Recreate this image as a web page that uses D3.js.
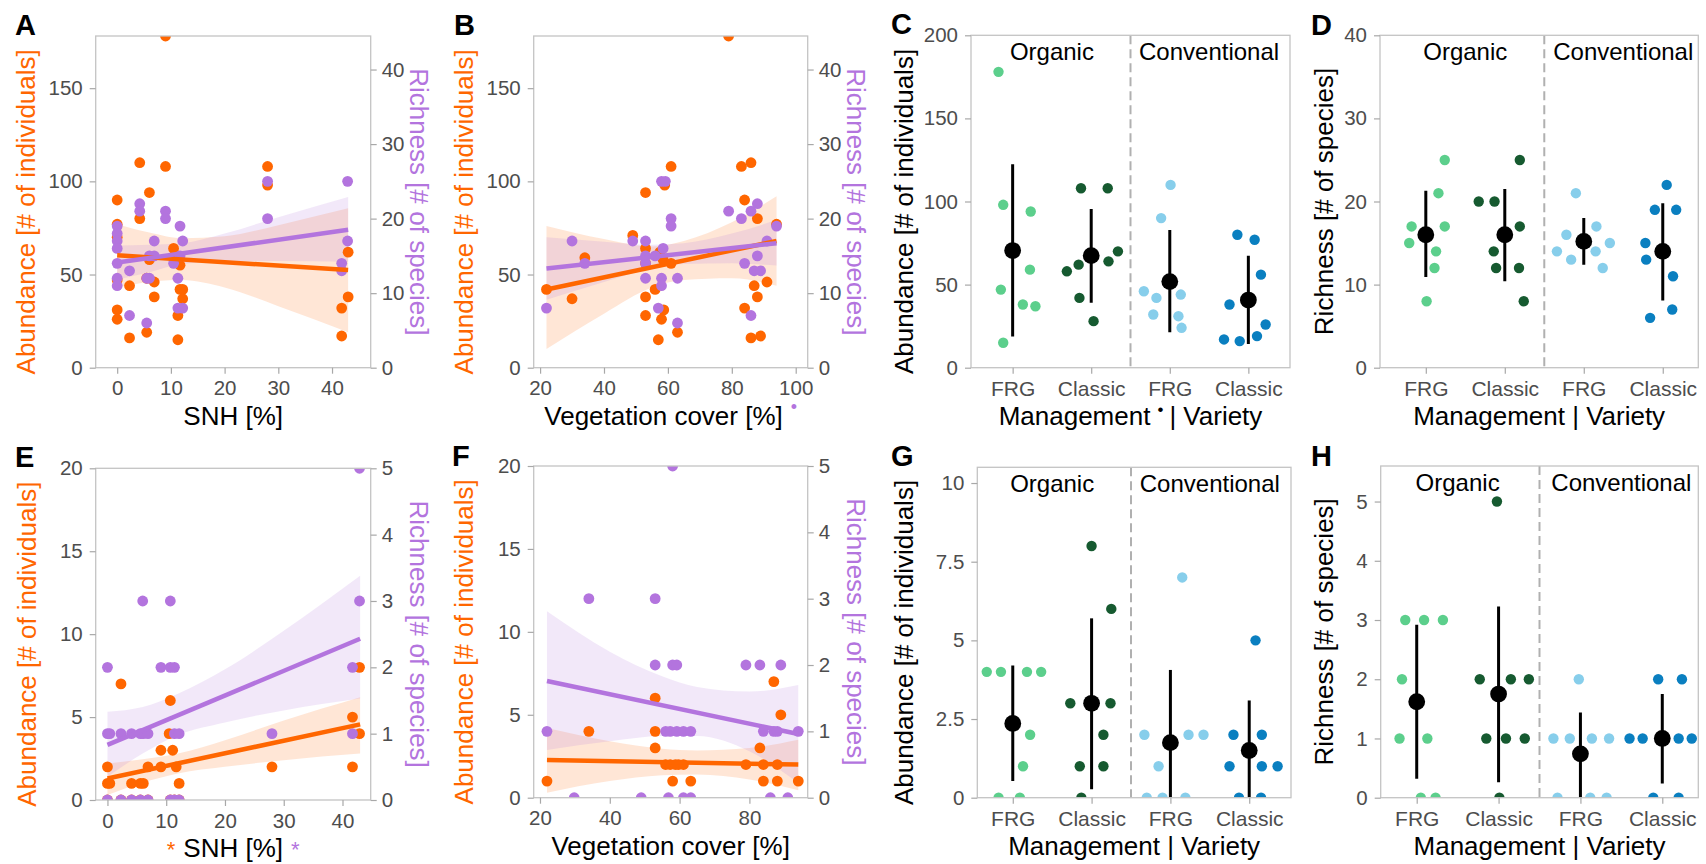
<!DOCTYPE html>
<html>
<head>
<meta charset="utf-8">
<script src="https://cdn.jsdelivr.net/npm/d3@7"></script>
<style>
  body { margin: 0; background: #fff; }
  svg { font-family: "Liberation Sans", Arial, sans-serif; }
</style>
</head>
<body>
<svg id="fig" width="1706" height="864"></svg>
<script>
// ---- data ----
// scatter panels: [x, value]
const snhAbundA = [[9,178],[4.2,110],[9,108],[28,108],[28,98],[6,94],[0,90],[4.2,80],[0,77],[0,70],[10.5,64],[43,62],[6,58],[11.7,55],[2.3,44],[6.9,46],[6.9,38],[11.7,42],[12.2,42],[12.2,37],[11.3,28],[0,31],[0,26],[2.3,16],[5.5,19],[11.3,15],[43,38],[41.8,32],[41.8,17],[0,47],[10.5,59],[5.5,48]];
const snhRichA = [[42.9,25],[28,25],[28,20],[4.2,22],[4.2,21],[9,21],[9,20],[0,19],[0,18],[0,17],[0,16],[0,14],[0,12],[0,11],[11.7,19],[12.2,17],[6.9,17],[6,15],[6.9,15],[11.7,15],[10.5,14],[2.3,13],[6,12],[5.5,12],[11.3,12],[11.3,8],[12.2,8],[2.3,7],[5.5,6],[42.9,17],[41.8,14],[41.8,13]];
const vegAbundB = [[79,178],[61,108],[83,108],[86,110],[53,94],[59,98],[84,90],[88,80],[94,77],[49,71],[53,64],[57.5,62],[58.5,58],[61,56],[34,59],[22,42],[30,37],[53,38],[56,42],[87,44],[91,46],[88,38],[84,32],[58.7,31],[53,28],[58,26],[63,19],[57,15],[86,16],[89,17],[53,56]];
const vegRichB = [[58,25],[59.2,25],[79,21],[86,21],[88,22],[83,20],[61,20],[61,19],[94,19],[30,17],[49,17],[53,17],[91,17],[58.5,16],[53,15],[56,15],[88,15],[34,14],[53,14],[84,14],[87,13],[89,13],[53,12],[58,12],[63,12],[58,11],[22,8],[57,8],[86,7],[63,6]];
const snhAbundE = [[0,2],[0,1],[0.4,1],[2.3,7],[4.1,1],[5.6,1],[6.1,1],[6.9,2],[9.1,3],[9.1,2],[10.7,6],[10.5,4],[11.1,3],[11.7,2],[12.2,1],[28,2],[41.7,5],[41.7,2],[42.9,8],[42.9,4],[0,0],[2.3,0],[4.1,0],[5.6,0],[6.9,0],[10.7,0],[11.4,0],[12.2,0]];
const snhRichE = [[42.9,5],[6,3],[10.7,3],[42.9,3],[0,2],[9.1,2],[10.7,2],[11.4,2],[41.7,2],[0,1],[0.4,1],[2.3,1],[4.1,1],[5.6,1],[6.1,1],[6.9,1],[11.4,1],[12.2,1],[28,1],[41.7,1],[0,0],[2.3,0],[4.1,0],[5.6,0],[6.9,0],[10.7,0],[11.4,0],[12.2,0]];
const vegAbundF = [[22,1],[34,4],[53,6],[53,4],[53,3],[56,2],[57.3,2],[58.8,2],[59.7,2],[61.1,2],[58,1],[63.2,1],[87,7],[89,5],[83,3],[79,2],[84,2],[88,2],[84,1],[88,1],[94,1]];
const vegRichF = [[58,5],[34,3],[53,3],[53,2],[58,2],[59.2,2],[79,2],[83,2],[89,2],[22,1],[56,1],[57.3,1],[59.2,1],[61.1,1],[63.2,1],[84,1],[87,1],[88,1],[94,1],[29.8,0],[49,0],[56.8,0],[61.1,0],[63.2,0],[86,0],[91,0]];

// fitted lines [x, y] and confidence bands [x, lower, upper]
const fitAbundA = [[0,60.3],[43,52.4]];
const fitRichA = [[0,14.1],[43,18.5]];
const bandAbundA = [[0,43,77],[6,46,72.5],[12,47,69.5],[20,43,70.5],[30,33,76.5],[43,19,85.5]];
const bandRichA = [[0,11.8,16.4],[6,12.8,16.5],[12,13.9,16.7],[20,14.2,18],[30,14.3,20.2],[43,14.2,22.9]];
const fitAbundB = [[22,42],[94,68]];
const fitRichB = [[22,13.3],[94,16.7]];
const bandAbundB = [[22,10,76],[40,29,69],[55,43,65],[65,47,68],[80,48,78],[94,44,92]];
const bandRichB = [[22,9.1,17.5],[40,11.5,16.9],[55,13.3,16.5],[65,13.9,16.7],[80,14,18],[94,13.7,19.8]];
const fitAbundE = [[0,1.3],[43,4.56]];
const fitRichE = [[0,0.83],[43,2.43]];
const bandAbundE = [[0,0.3,2.2],[6,1.05,2.45],[12,1.6,2.8],[20,2.0,3.6],[30,2.4,4.8],[43,2.8,6.2]];
const bandRichE = [[0,0.35,1.33],[6,0.7,1.4],[12,0.98,1.6],[20,1.17,1.97],[30,1.35,2.55],[43,1.53,3.38]];
const fitAbundF = [[22,2.27],[94,2.0]];
const fitRichF = [[22,1.76],[94,0.96]];
const bandAbundF = [[22,0.3,4.2],[40,1.0,3.4],[55,1.35,2.95],[65,1.4,2.85],[80,1.1,3.0],[94,0.45,3.5]];
const bandRichF = [[22,0.72,2.81],[40,0.85,2.2],[55,0.93,1.83],[65,0.93,1.67],[80,0.7,1.6],[94,0.22,1.7]];

// group panels
const catLabels = ["FRG", "Classic", "FRG", "Classic"];
// per group: [jitter offset, value]
const abundC = [
  [[-0.18,178],[-0.12,98],[0.23,94],[0.22,59],[-0.15,47],[0.13,38],[0.29,37],[-0.12,15]],
  [[-0.13,108],[0.21,108],[0.34,70],[0.22,64],[-0.16,62],[-0.31,58],[-0.15,42],[0.03,28]],
  [[0.01,110],[-0.11,90],[-0.33,46],[-0.17,42],[0.14,44],[-0.21,32],[0.11,31],[0.15,24]],
  [[-0.14,80],[0.08,77],[0.16,56],[-0.24,38],[0.22,26],[0.11,19],[-0.31,17],[-0.11,16]]
];
const meanC = [70.5, 67.4, 51.8, 40.7];
const loC = [18.7, 39.1, 21.3, 14.2];
const hiC = [122.4, 95.5, 82.8, 67.4];
const richD = [
  [[0.24,25],[0.16,21],[-0.18,17],[0.24,17],[-0.21,15],[0.13,14],[0.11,12],[0.01,8]],
  [[0.19,25],[-0.33,20],[-0.13,20],[0.19,17],[-0.14,14],[-0.11,12],[0.18,12],[0.24,8]],
  [[-0.1,21],[-0.22,16],[0.16,17],[-0.34,14],[0.15,14],[0.33,15],[-0.16,13],[0.24,12]],
  [[0.05,22],[-0.1,19],[0.17,19],[-0.22,15],[-0.21,13],[0.13,11],[0.12,7],[-0.16,6]]
];
const meanD = [16, 16, 15.2, 14];
const loD = [10.9, 10.4, 12.4, 8.1];
const hiD = [21.3, 21.5, 18, 19.8];
const abundG = [
  [[-0.33,4],[-0.15,4],[0.18,4],[0.36,4],[0.22,2],[0.13,1],[-0.18,0],[0.09,0]],
  [[0,8],[0.25,6],[-0.27,3],[0.24,3],[0.15,2],[-0.15,1],[0.15,1],[-0.13,0]],
  [[0.15,7],[-0.33,2],[0.23,2],[0.42,2],[-0.15,1],[-0.3,0],[-0.1,0],[0.19,0]],
  [[0.08,5],[-0.2,2],[0.16,2],[-0.25,1],[0.16,1],[0.36,1],[-0.13,0],[0.15,0]]
];
const meanG = [2.36, 3, 1.75, 1.5];
const loG = [0.53, 0.27, 0, 0];
const hiG = [4.2, 5.7, 4.06, 3.09];
const richH = [
  [[-0.14,3],[0.09,3],[0.32,3],[-0.18,2],[-0.21,1],[0.13,1],[0.05,0],[0.23,0]],
  [[-0.02,5],[-0.23,2],[0.15,2],[0.37,2],[-0.15,1],[0.09,1],[0.32,1],[0.01,0]],
  [[-0.02,2],[-0.33,1],[-0.13,1],[0.14,1],[0.35,1],[-0.28,0],[0.12,0],[0.32,0]],
  [[-0.05,2],[0.24,2],[-0.4,1],[-0.24,1],[0.2,1],[0.36,1],[-0.11,0],[0.2,0]]
];
const meanH = [1.62, 1.75, 0.74, 1];
const loH = [0.32, 0.26, 0, 0.24];
const hiH = [2.92, 3.23, 1.44, 1.75];

// ---- styles ----
const ORANGE = "#ff6600";
const PURPLE = "#b374de";
const groupColors = ["#5ccf8c", "#165a30", "#87ceeb", "#0a7fc0"];
const BORDER = "#c4c4c4";
const TICK = "#a8a8a8";
const LABEL = "#4d4d4d";
const plain = d => String(d);

const svg = d3.select("#fig");
const defs = svg.append("defs");

function styleAxis(s, fs) {
  s.attr("font-family", null).attr("font-size", null);
  s.select(".domain").remove();
  s.selectAll(".tick line").attr("stroke", TICK).attr("stroke-width", 1.2);
  s.selectAll(".tick text").attr("fill", LABEL).style("font-size", (fs || 20.5) + "px");
}

function makeClip(name, b) {
  defs.append("clipPath").attr("id", name).append("rect")
    .attr("x", b.x0).attr("y", b.y0).attr("width", b.x1 - b.x0).attr("height", b.y1 - b.y0);
  return "url(#" + name + ")";
}

function panelLetter(g, letter, x, y) {
  g.append("text").attr("x", x).attr("y", y)
    .style("font-size", "29px").style("font-weight", "bold").text(letter);
}

function scatterPanel(p) {
  const b = p.box;
  const g = svg.append("g");
  const x = d3.scaleLinear().domain(p.xDomain).range([b.x0, b.x1]);
  const yA = d3.scaleLinear().domain([0, p.abundMax]).range([b.y1, b.y0]);
  const yR = d3.scaleLinear().domain([0, p.richMax]).range([b.y1, b.y0]);
  const plot = g.append("g").attr("clip-path", makeClip("clip" + p.letter, b));

  const area = ys => d3.area().x(d => x(d[0])).y0(d => ys(d[1])).y1(d => ys(d[2])).curve(d3.curveMonotoneX);
  plot.append("path").datum(p.abundBand).attr("d", area(yA)).attr("fill", ORANGE).attr("fill-opacity", 0.16);
  plot.append("path").datum(p.richBand).attr("d", area(yR)).attr("fill", PURPLE).attr("fill-opacity", 0.17);

  plot.append("g").selectAll("circle").data(p.abundPts).join("circle")
    .attr("cx", d => x(d[0])).attr("cy", d => yA(d[1])).attr("r", 5.4).attr("fill", ORANGE);
  plot.append("g").selectAll("circle").data(p.richPts).join("circle")
    .attr("cx", d => x(d[0])).attr("cy", d => yR(d[1])).attr("r", 5.4).attr("fill", PURPLE);

  const line = ys => d3.line().x(d => x(d[0])).y(d => ys(d[1]));
  plot.append("path").datum(p.abundFit).attr("d", line(yA)).attr("fill", "none")
    .attr("stroke", ORANGE).attr("stroke-width", 4.5);
  plot.append("path").datum(p.richFit).attr("d", line(yR)).attr("fill", "none")
    .attr("stroke", PURPLE).attr("stroke-width", 4.5);

  g.append("rect").attr("x", b.x0).attr("y", b.y0).attr("width", b.x1 - b.x0).attr("height", b.y1 - b.y0)
    .attr("fill", "none").attr("stroke", BORDER).attr("stroke-width", 1.3);

  g.append("g").attr("transform", `translate(${b.x0},0)`)
    .call(d3.axisLeft(yA).tickValues(p.abundTicks).tickFormat(plain).tickSize(6).tickPadding(7)).call(styleAxis);
  g.append("g").attr("transform", `translate(${b.x1},0)`)
    .call(d3.axisRight(yR).tickValues(p.richTicks).tickFormat(plain).tickSize(6).tickPadding(5)).call(styleAxis);
  g.append("g").attr("transform", `translate(0,${b.y1})`)
    .call(d3.axisBottom(x).tickValues(p.xTicks).tickFormat(plain).tickSize(6).tickPadding(7)).call(styleAxis);

  const cy = (b.y0 + b.y1) / 2;
  g.append("text").attr("transform", `translate(${p.yLeftX},${cy + 10}) rotate(-90)`)
    .attr("text-anchor", "middle").attr("fill", ORANGE).style("font-size", "26px")
    .text("Abundance [# of individuals]");
  g.append("text").attr("transform", `translate(${b.x1 + 39},${cy}) rotate(90)`)
    .attr("text-anchor", "middle").attr("fill", PURPLE).style("font-size", "26px")
    .text("Richness [# of species]");

  const t = g.append("text").attr("x", (b.x0 + b.x1) / 2).attr("y", b.y1 + 57)
    .attr("text-anchor", "middle").style("font-size", "26px");
  p.title(t);

  panelLetter(g, p.letter, p.letterPos[0], p.letterPos[1]);
}

function groupPanel(p) {
  const b = p.box;
  const g = svg.append("g");
  const x = d3.scaleLinear().domain(p.xDomain).range([b.x0, b.x1]);
  const y = d3.scaleLinear().domain([0, p.yMax]).range([b.y1, b.y0]);
  const plot = g.append("g").attr("clip-path", makeClip("clip" + p.letter, b));

  plot.append("line").attr("x1", x(2.5)).attr("x2", x(2.5)).attr("y1", b.y0).attr("y2", b.y1)
    .attr("stroke", "#b0b0b0").attr("stroke-width", 2).attr("stroke-dasharray", "9,5");

  p.points.forEach((pts, i) => {
    plot.append("g").selectAll("circle").data(pts).join("circle")
      .attr("cx", d => x(i + 1 + d[0])).attr("cy", d => y(d[1])).attr("r", 5.2)
      .attr("fill", groupColors[i]);
  });
  const idx = [0, 1, 2, 3];
  plot.append("g").selectAll("line").data(idx).join("line")
    .attr("x1", i => x(i + 1)).attr("x2", i => x(i + 1))
    .attr("y1", i => y(p.lo[i])).attr("y2", i => y(p.hi[i]))
    .attr("stroke", "#000").attr("stroke-width", 3);
  plot.append("g").selectAll("circle").data(idx).join("circle")
    .attr("cx", i => x(i + 1)).attr("cy", i => y(p.mean[i])).attr("r", 8.4).attr("fill", "#000");

  g.append("rect").attr("x", b.x0).attr("y", b.y0).attr("width", b.x1 - b.x0).attr("height", b.y1 - b.y0)
    .attr("fill", "none").attr("stroke", BORDER).attr("stroke-width", 1.3);

  g.append("g").attr("transform", `translate(${b.x0},0)`)
    .call(d3.axisLeft(y).tickValues(p.yTicks).tickFormat(plain).tickSize(6).tickPadding(7)).call(styleAxis);
  g.append("g").attr("transform", `translate(0,${b.y1})`)
    .call(d3.axisBottom(x).tickValues([1, 2, 3, 4]).tickFormat((d, i) => catLabels[i])
      .tickSize(6).tickPadding(7)).call(s => styleAxis(s, 21));

  g.append("text").attr("x", x(1.5)).attr("y", b.y0 + 25).attr("text-anchor", "middle")
    .style("font-size", "24px").text("Organic");
  g.append("text").attr("x", x(3.5)).attr("y", b.y0 + 25).attr("text-anchor", "middle")
    .style("font-size", "24px").text("Conventional");

  const cy = (b.y0 + b.y1) / 2 + p.labelShift;
  g.append("text").attr("transform", `translate(${p.yLeftX},${cy}) rotate(-90)`)
    .attr("text-anchor", "middle").style("font-size", "26px").text(p.yLabel);

  const t = g.append("text").attr("x", (b.x0 + b.x1) / 2).attr("y", b.y1 + 57)
    .attr("text-anchor", "middle").style("font-size", "26px");
  if (p.dot) {
    t.append("tspan").text("Management");
    t.append("tspan").attr("dx", 7).attr("dy", -10).style("font-size", "17px").text("\u2022");
    t.append("tspan").attr("dx", 6).attr("dy", 10).text("| Variety");
  } else {
    t.text("Management | Variety");
  }

  panelLetter(g, p.letter, p.letterPos[0], p.letterPos[1]);
}

// ---- panels ----
scatterPanel({
  letter: "A", letterPos: [15, 35],
  box: { x0: 95.7, x1: 370.7, y0: 36, y1: 367.7 },
  xDomain: [-4, 47.2], xTicks: [0, 10, 20, 30, 40],
  abundMax: 178, richMax: 44.5, abundTicks: [0, 50, 100, 150], richTicks: [0, 10, 20, 30, 40],
  abundPts: snhAbundA, richPts: snhRichA, abundFit: fitAbundA, richFit: fitRichA,
  abundBand: bandAbundA, richBand: bandRichA, yLeftX: 35,
  title: t => t.text("SNH [%]")
});
scatterPanel({
  letter: "B", letterPos: [454, 35],
  box: { x0: 533.7, x1: 807.7, y0: 36, y1: 367.7 },
  xDomain: [18, 103.75], xTicks: [20, 40, 60, 80, 100],
  abundMax: 178, richMax: 44.5, abundTicks: [0, 50, 100, 150], richTicks: [0, 10, 20, 30, 40],
  abundPts: vegAbundB, richPts: vegRichB, abundFit: fitAbundB, richFit: fitRichB,
  abundBand: bandAbundB, richBand: bandRichB, yLeftX: 473,
  title: t => {
    t.append("tspan").text("Vegetation cover [%]");
    t.append("tspan").attr("dx", 8).attr("dy", -12).attr("fill", PURPLE).style("font-size", "18px").text("\u2022");
  }
});
scatterPanel({
  letter: "E", letterPos: [15, 467],
  box: { x0: 95.7, x1: 370.7, y0: 468.3, y1: 800 },
  xDomain: [-2, 44.8], xTicks: [0, 10, 20, 30, 40],
  abundMax: 20, richMax: 5, abundTicks: [0, 5, 10, 15, 20], richTicks: [0, 1, 2, 3, 4, 5],
  abundPts: snhAbundE, richPts: snhRichE, abundFit: fitAbundE, richFit: fitRichE,
  abundBand: bandAbundE, richBand: bandRichE, yLeftX: 36,
  title: t => {
    t.append("tspan").attr("fill", ORANGE).style("font-size", "22px").text("*");
    t.append("tspan").attr("dx", 8).text("SNH [%]");
    t.append("tspan").attr("dx", 8).attr("fill", PURPLE).style("font-size", "22px").text("*");
  }
});
scatterPanel({
  letter: "F", letterPos: [452, 466],
  box: { x0: 533.7, x1: 807.7, y0: 466, y1: 797.7 },
  xDomain: [18.2, 96.7], xTicks: [20, 40, 60, 80],
  abundMax: 20, richMax: 5, abundTicks: [0, 5, 10, 15, 20], richTicks: [0, 1, 2, 3, 4, 5],
  abundPts: vegAbundF, richPts: vegRichF, abundFit: fitAbundF, richFit: fitRichF,
  abundBand: bandAbundF, richBand: bandRichF, yLeftX: 473,
  title: t => t.text("Vegetation cover [%]")
});

groupPanel({
  letter: "C", letterPos: [891, 34],
  box: { x0: 971, x1: 1290, y0: 35.3, y1: 367.7 },
  xDomain: [0.47, 4.53], yMax: 200, yTicks: [0, 50, 100, 150, 200],
  points: abundC, mean: meanC, lo: loC, hi: hiC,
  yLabel: "Abundance [# of individuals]", yLeftX: 912.7, labelShift: 10, dot: true
});
groupPanel({
  letter: "D", letterPos: [1311, 35],
  box: { x0: 1380, x1: 1698.3, y0: 35.3, y1: 367.7 },
  xDomain: [0.42, 4.45], yMax: 40, yTicks: [0, 10, 20, 30, 40],
  points: richD, mean: meanD, lo: loD, hi: hiD,
  yLabel: "Richness [# of species]", yLeftX: 1333, labelShift: 0, dot: false
});
groupPanel({
  letter: "G", letterPos: [891, 466],
  box: { x0: 977.3, x1: 1291, y0: 467.3, y1: 797.7 },
  xDomain: [0.55, 4.53], yMax: 10.5, yTicks: [0, 2.5, 5, 7.5, 10],
  points: abundG, mean: meanG, lo: loG, hi: hiG,
  yLabel: "Abundance [# of individuals]", yLeftX: 912.7, labelShift: 10, dot: false
});
groupPanel({
  letter: "H", letterPos: [1311, 466],
  box: { x0: 1380.7, x1: 1698.3, y0: 466, y1: 797.7 },
  xDomain: [0.56, 4.44], yMax: 5.6, yTicks: [0, 1, 2, 3, 4, 5],
  points: richH, mean: meanH, lo: loH, hi: hiH,
  yLabel: "Richness [# of species]", yLeftX: 1333.3, labelShift: 0, dot: false
});
</script>
</body>
</html>
